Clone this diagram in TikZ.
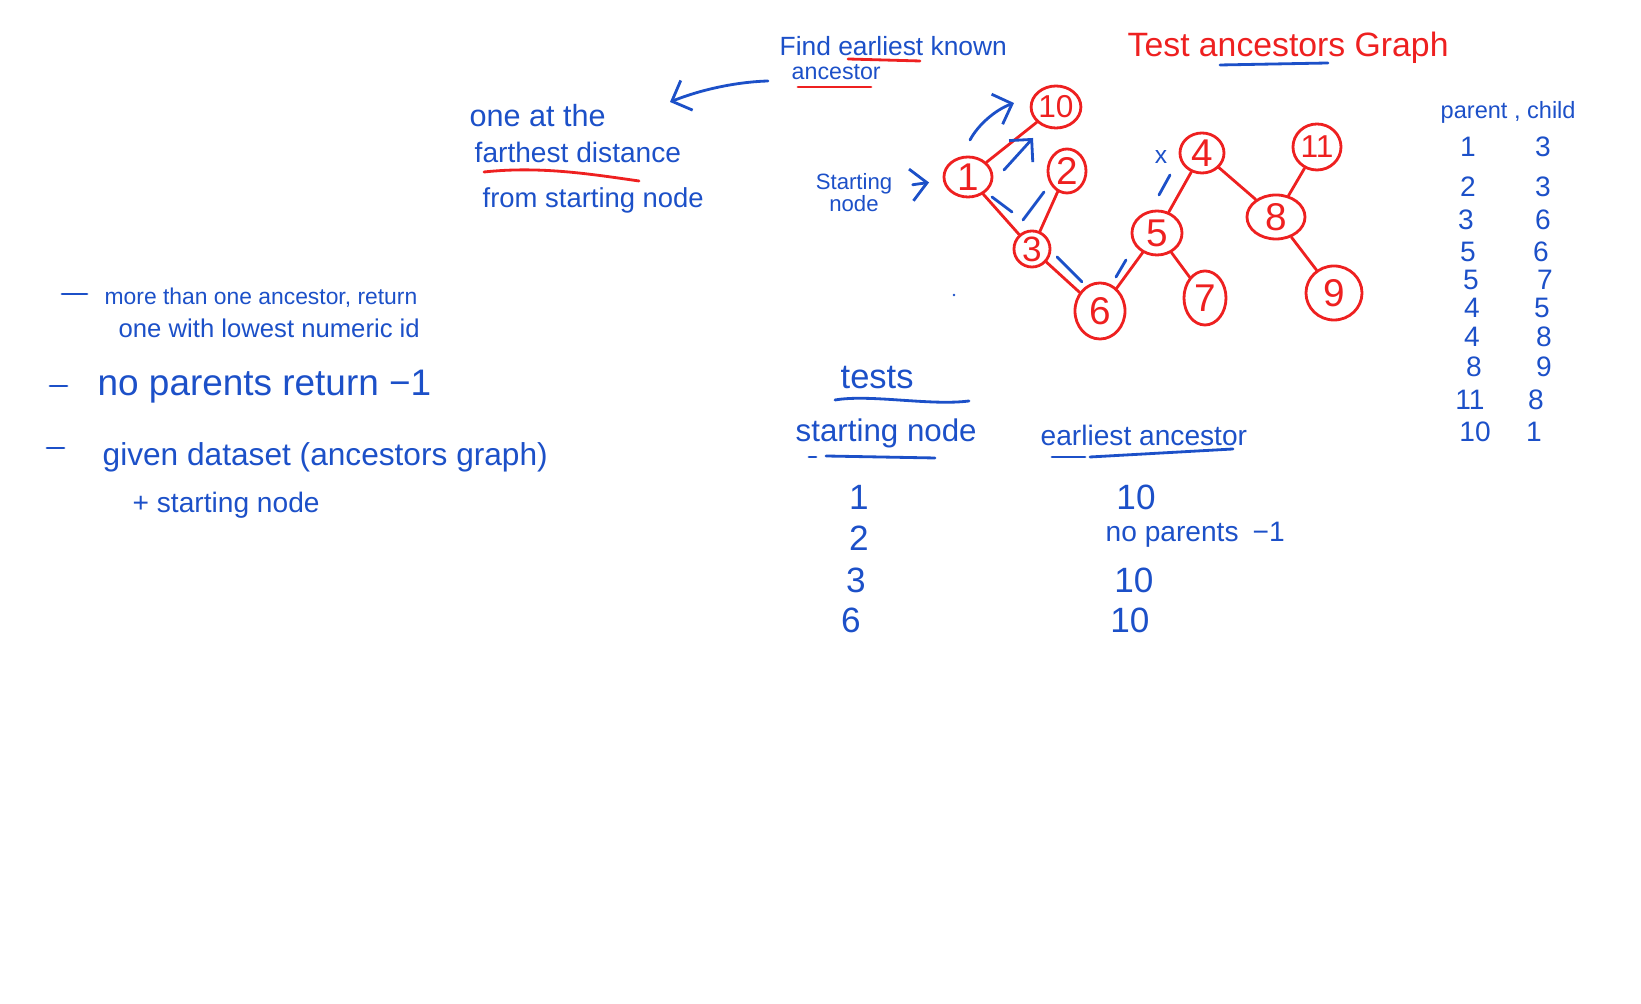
\documentclass[tikz,border=0pt]{standalone}
\usepackage{fontspec}
\setmainfont{Liberation Sans}
\usepackage{tikz}
\usetikzlibrary{positioning,arrows.meta,shapes.geometric}
\definecolor{inkblue}{RGB}{28,80,200}
\definecolor{inkred}{RGB}{238,32,32}
\tikzset{
  pen/.style={inkblue, line width=0.8pt, line cap=round},
  redpen/.style={inkred, line width=0.8pt, line cap=round},
  penarrow/.style={pen, -{Straight Barb[length=1.6mm, width=3.2mm]}},
  famline/.style={redpen},
  hand/.style={text=inkblue, inner sep=0pt, anchor=west, font=\fontsize{#1}{#1}\selectfont},
  hand/.default=7.5,
  redhand/.style={hand=#1, text=inkred},
  vertex/.style={draw=inkred, line width=0.8pt, ellipse, inner sep=0pt, minimum width=0.46cm, minimum height=0.42cm, text=inkred, font=\fontsize{11}{11}\selectfont}
}

\begin{document}
\begin{tikzpicture}[x=0.01cm, y=-0.01cm]
  \useasboundingbox (0,0) rectangle (1641,1004);
  % question
  \node[hand=7.5] (find) at (779,46) {Find earliest known};
  \node[hand=6.6] (anc) at (791,72) {ancestor};
  \draw[redpen] (848,59) -- (920,61);
  \draw[redpen] (798,87) -- (871,87);
  \draw[penarrow] (768,81) .. controls (735,82) and (700,90) .. (670,102);
  \node[hand=8.7] (onethe) at (469,116) {one at the};
  \node[hand=8] (farthest) at (474,152) {farthest distance};
  \draw[redpen] (484,172) .. controls (540,166) and (590,174) .. (639,181);
  \node[hand=7.8] (fromstart) at (482,200) {from starting node};

  % graph
  \node[hand=6.3, anchor=center, align=center] (startlbl) at (854,193) {Starting\\node};
  \node[vertex, minimum width=0.48cm, font=\fontsize{9}{9}\selectfont] (n10) at (1056,107) {10};
  \node[vertex, minimum width=0.48cm, minimum height=0.4cm] (n1) at (968,177) {1};
  \node[vertex, minimum width=0.38cm, minimum height=0.44cm] (n2) at (1067,171) {2};
  \node[vertex, minimum width=0.36cm, minimum height=0.36cm, font=\fontsize{10}{10}\selectfont] (n3) at (1032,249) {3};
  \node[vertex, minimum width=0.5cm, minimum height=0.56cm] (n6) at (1100,311) {6};
  \node[vertex, minimum width=0.5cm, minimum height=0.44cm] (n5) at (1157,233) {5};
  \node[vertex, minimum width=0.42cm, minimum height=0.54cm] (n7) at (1205,298) {7};
  \node[vertex, minimum width=0.44cm, minimum height=0.4cm] (n4) at (1202,153) {4};
  \node[vertex, minimum width=0.58cm, minimum height=0.44cm] (n8) at (1276,217) {8};
  \node[vertex, minimum width=0.48cm, minimum height=0.46cm, font=\fontsize{9}{9}\selectfont] (n11) at (1317,147) {11};
  \node[vertex, minimum width=0.56cm, minimum height=0.54cm] (n9) at (1334,293) {9};
  \draw[famline] (n10) -- (n1);
  \draw[famline] (n1) -- (n3);
  \draw[famline] (n2) -- (n3);
  \draw[famline] (n3) -- (n6);
  \draw[famline] (n6) -- (n5);
  \draw[famline] (n5) -- (n4);
  \draw[famline] (n5) -- (n7);
  \draw[famline] (n4) -- (n8);
  \draw[famline] (n8) -- (n11);
  \draw[famline] (n8) -- (n9);
  \draw[penarrow, shorten <=0.2cm, shorten >=0.14cm] (startlbl) -- (n1);
  % walk up the graph
  \draw[penarrow] (970,140) .. controls (978,125) and (995,110) .. (1014,103);
  \draw[penarrow] (1004,170) -- (1033,138);
  \draw[pen] (992,197) -- (1012,212);
  \draw[pen] (1044,192) -- (1023,220);
  \draw[pen] (1057,257) -- (1082,282);
  \draw[pen] (1116,277) -- (1126,260);
  \draw[pen] (1159,195) -- (1170,175);
  \node[hand=7, anchor=center] (deadend) at (1161,157) {x};
  \fill[inkblue] (954,295) circle (1.3);

  % title
  \node[redhand=9.6] (title) at (1127,48) {Test ancestors Graph};
  \draw[pen] (1220,65) -- (1328,63);

  % parent, child pairs
  \node[hand=6.7] (pchead) at (1440,112) {parent , child};
  \node[hand=8, anchor=center] (p1) at (1468,147) {1};  \node[hand=8, anchor=center] (c1) at (1543,147) {3};
  \node[hand=8, anchor=center] (p2) at (1468,187) {2};  \node[hand=8, anchor=center] (c2) at (1543,187) {3};
  \node[hand=8, anchor=center] (p3) at (1466,220) {3};  \node[hand=8, anchor=center] (c3) at (1543,220) {6};
  \node[hand=8, anchor=center] (p4) at (1468,252) {5};  \node[hand=8, anchor=center] (c4) at (1541,252) {6};
  \node[hand=8, anchor=center] (p5) at (1471,280) {5};  \node[hand=8, anchor=center] (c5) at (1545,280) {7};
  \node[hand=8, anchor=center] (p6) at (1472,308) {4};  \node[hand=8, anchor=center] (c6) at (1542,308) {5};
  \node[hand=8, anchor=center] (p7) at (1472,337) {4};  \node[hand=8, anchor=center] (c7) at (1544,337) {8};
  \node[hand=8, anchor=center] (p8) at (1474,367) {8};  \node[hand=8, anchor=center] (c8) at (1544,367) {9};
  \node[hand=8, anchor=center] (p9) at (1470,400) {11}; \node[hand=8, anchor=center] (c9) at (1536,400) {8};
  \node[hand=8, anchor=center] (p10) at (1475,432) {10}; \node[hand=8, anchor=center] (c10) at (1534,432) {1};

  % rules
  \draw[pen] (62,294) -- (87,294);
  \node[hand=6.5] (multi) at (104,298) {more than one ancestor, return};
  \node[hand=7.3] (lowest) at (118,328) {one with lowest numeric id};
  \draw[pen] (50,386) -- (67,386);
  \node[hand=10.5] (noparent) at (97,387) {no parents return −1};
  \draw[pen] (47,448) -- (64,448);
  \node[hand=9] (given) at (102,457) {given dataset (ancestors graph)};
  \node[hand=8] (plusstart) at (132,505) {+ starting node};

  % tests
  \node[hand=9.8] (tests) at (840,378) {tests};
  \draw[pen] (835,400) .. controls (870,394) and (930,406) .. (969,401);
  \node[hand=8.9] (snhead) at (795,433) {starting node};
  \draw[pen] (809,457) -- (816,457);
  \draw[pen] (826,456) -- (935,458);
  \node[hand=8] (eahead) at (1040,435) {earliest ancestor};
  \draw[pen] (1052,457) -- (1085,457);
  \draw[pen] (1090,457) -- (1233,449);
  \node[hand=10, anchor=center] (s1) at (859,497) {1};
  \node[hand=10, anchor=center] (s2) at (859,538) {2};
  \node[hand=10, anchor=center] (s3) at (856,580) {3};
  \node[hand=10, anchor=center] (s6) at (851,620) {6};
  \node[hand=10, anchor=center] (e1) at (1136,497) {10};
  \node[hand=8] (e2) at (1105,535) {no parents\enspace −1};
  \node[hand=10, anchor=center] (e3) at (1134,580) {10};
  \node[hand=10, anchor=center] (e6) at (1130,620) {10};
\end{tikzpicture}
\end{document}
